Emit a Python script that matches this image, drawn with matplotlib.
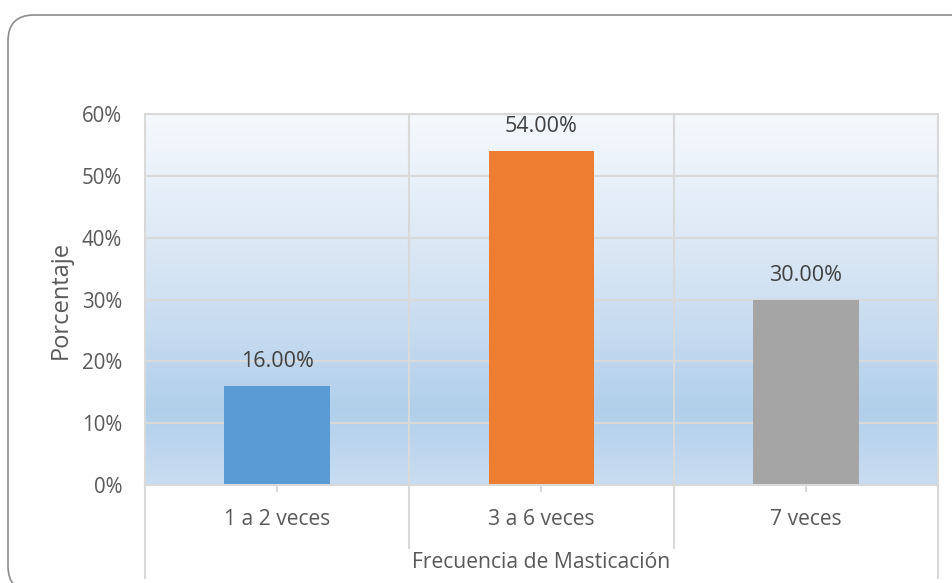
import numpy as np
import matplotlib
matplotlib.use("Agg")
import matplotlib.pyplot as plt
from matplotlib.patches import FancyBboxPatch
from matplotlib.transforms import IdentityTransform
from matplotlib.colors import LinearSegmentedColormap
from matplotlib.ticker import FuncFormatter

categories = ["1 a 2 veces", "3 a 6 veces", "7 veces"]
values = [16.0, 54.0, 30.0]
bar_colors = ["#5B9BD5", "#ED7D31", "#A5A5A5"]
y_ticks = [0, 10, 20, 30, 40, 50, 60]
x_title = "Frecuencia de Masticación"
y_title = "Porcentaje"

plt.rcParams['font.family'] = ['Open Sans', 'DejaVu Sans']
TXT = "#595959"
GRID = "#D9D9D9"
FS = 15.2

W, H = 953, 583
fig = plt.figure(figsize=(W / 100, H / 100), dpi=100)

# rounded border (extends past right and bottom edges of the image)
border = FancyBboxPatch((8, -9), 970, 583 - 15 + 9, boxstyle="round,pad=0,rounding_size=26",
                        transform=IdentityTransform(), fill=False, edgecolor="#8C8C8C",
                        linewidth=1.2, figure=fig)
fig.patches.append(border)

L, R, T, B = 145, 938, 114, 485
ax = fig.add_axes([L / W, (H - B) / H, (R - L) / W, (B - T) / H])

# gradient background
cmap = LinearSegmentedColormap.from_list(
    "bg", [(0.0, (201/255, 221/255, 241/255)), (0.2, (177/255, 207/255, 235/255)),
           (0.6, (216/255, 230/255, 244/255)), (1.0, (245/255, 249/255, 253/255))])
grad = np.linspace(0, 1, 256).reshape(-1, 1)
ax.imshow(grad, aspect="auto", cmap=cmap, origin="lower",
          extent=[-0.5, 2.5, 0, 60], zorder=0)

x = np.arange(len(categories))
ax.set_xlim(-0.5, 2.5)
ax.set_ylim(0, 60)

for yv in y_ticks:
    ax.axhline(yv, color=GRID, linewidth=1.5, zorder=1)
for xv in [0.5, 1.5]:
    ax.axvline(xv, color=GRID, linewidth=1.5, zorder=1)

bars = ax.bar(x, values, width=0.4, color=bar_colors, zorder=2)
for xi, v in zip(x, values):
    ax.annotate(f"{v:.2f}%", (xi, v), xytext=(0, 17.5), textcoords="offset points",
                ha="center", va="center", fontsize=FS + 0.3, color="#404040")

for s in ax.spines.values():
    s.set_color(GRID)
    s.set_linewidth(1.5)

ax.set_yticks(y_ticks)
ax.yaxis.set_major_formatter(FuncFormatter(lambda v, p: f"{int(v)}%"))
ax.tick_params(axis='y', length=0, pad=16.5, labelsize=14.8, labelcolor=TXT)
ax.set_xticks(x)
ax.set_xticklabels(categories)
ax.tick_params(axis='x', length=5, width=1.5, color=GRID, pad=12, labelsize=FS, labelcolor=TXT)

# table-like category separators below axis
ph = B - T
for xf, bottom_px in [(0, 578), (1 / 3, 548), (2 / 3, 548), (1, 578)]:
    ax.plot([xf, xf], [0, -(bottom_px - B) / ph], transform=ax.transAxes,
            color=GRID, linewidth=1.5, clip_on=False, zorder=1)

fig.text(0.5 * (L + R) / W, 1 - 563 / H, x_title, ha="center", va="center",
         fontsize=FS, color=TXT)
fig.text(61 / W, 1 - 300 / H, y_title, ha="center", va="center", rotation=90,
         fontsize=17, color=TXT)

fig.savefig("out.png", dpi=100)
